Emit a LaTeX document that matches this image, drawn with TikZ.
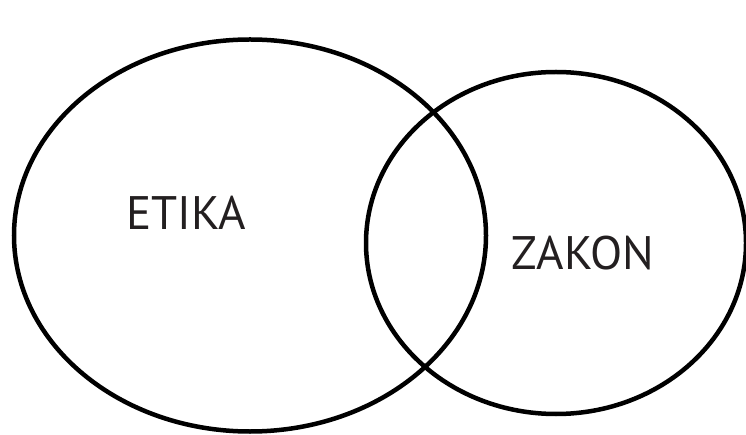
\documentclass[tikz,border=0pt]{standalone}
\usepackage{fontspec}
\setmainfont{PT Sans}
\definecolor{inkgray}{HTML}{231F20}
\begin{document}
\begin{tikzpicture}[x=1pt, y=-1pt,
  setbox/.style={draw=black, line width=4.5pt},
  setlabel/.style={font=\fontsize{47}{50}\selectfont, text=inkgray, inner sep=0pt, anchor=base}]
  \useasboundingbox (0,0) rectangle (746,435);
  % the two sets
  \draw[setbox] (250,235.5) ellipse [x radius=236, y radius=196];
  \draw[setbox] (556,243) ellipse [x radius=190, y radius=171];
  \node[setlabel] (etika) at (186,230) {ETIKA};
  \node[setlabel] (zakon) at (583,270) {ZAKON};
\end{tikzpicture}
\end{document}
